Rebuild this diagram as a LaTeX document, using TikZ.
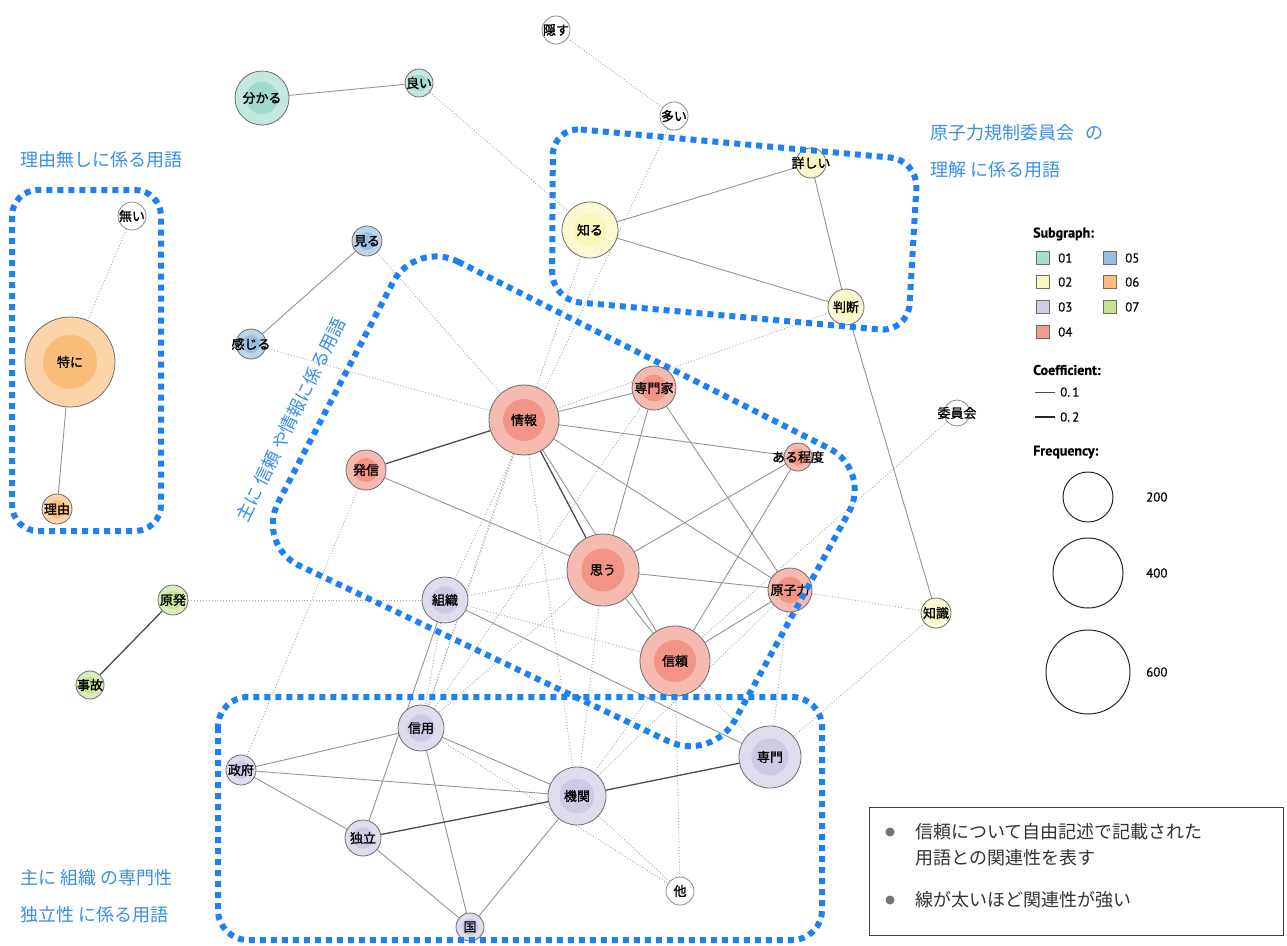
\documentclass[tikz,border=0pt]{standalone}
\usepackage{fontspec}
\newfontfamily\jp{Noto Sans CJK JP}
\newfontfamily\jpb[FakeBold=1.3]{Noto Sans CJK JP}
\newfontfamily\lgf[FakeBold=0.6]{PT Sans}
\usetikzlibrary{backgrounds}
\definecolor{c01}{HTML}{93D3C5}
\definecolor{c02}{HTML}{F8F5B0}
\definecolor{c03}{HTML}{C4C1DF}
\definecolor{c04}{HTML}{F08272}
\definecolor{c05}{HTML}{88B3D5}
\definecolor{c06}{HTML}{F9B162}
\definecolor{c07}{HTML}{BCDC7C}
\definecolor{nedge}{HTML}{6E6E6E}
\definecolor{bluebx}{HTML}{1E80F5}
\definecolor{bluetx}{HTML}{3A8EE8}
\tikzset{
  vtx/.style 2 args={circle, draw=nedge, line width=0.8pt, fill=#1!55, minimum size=#2, inner sep=0pt,
    path picture={\fill[#1!85] (path picture bounding box.center) circle[radius=0.3*#2];}},
  wvtx/.style={circle, draw=nedge!80, line width=0.8pt, fill=white, minimum size=#1, inner sep=0pt},
  lbl/.style={font=\jpb\fontsize{13}{13}\selectfont, text=black, inner sep=0pt},
  sedge/.style={draw=black!42, line width=0.9pt},
  dedge/.style={draw=black!70, line width=1.3pt},
  dotedge/.style={draw=black!35, line width=0.9pt, dotted},
  bluebox/.style={draw=bluebx, line width=6pt, dash pattern=on 6pt off 5pt},
  btxt/.style={font=\jp\fontsize{18}{18}\selectfont, text=bluetx, inner sep=0pt, anchor=west},
  lgt/.style={font=\lgf\fontsize{13}{13}\selectfont, inner sep=0pt, anchor=west},
  lgsq/.style={draw=nedge, line width=0.8pt, minimum size=13pt, inner sep=0pt},
  ntxt/.style={font=\jp\fontsize{18}{18}\selectfont, text=black!80, inner sep=0pt, anchor=west},
}
\begin{document}
\begin{tikzpicture}[x=1pt,y=-1pt]
\useasboundingbox (0,0) rectangle (1287,945);

% nodes
\node[wvtx=28pt, label={[lbl]center:隠す}] (kakusu) at (556,30) {};
\node[vtx={c01}{28pt}, label={[lbl]center:良い}] (yoi) at (419,83) {};
\node[vtx={c01}{54pt}, label={[lbl]center:分かる}] (wakaru) at (262,98) {};
\node[wvtx=28pt, label={[lbl]center:多い}] (ooi) at (674,116) {};
\node[vtx={c02}{30pt}, label={[lbl]center:詳しい}] (kuwashii) at (811,163) {};
\node[vtx={c02}{56pt}, label={[lbl]center:知る}] (shiru) at (590,230) {};
\node[wvtx=28pt, label={[lbl]center:無い}] (nai) at (132,216) {};
\node[vtx={c05}{30pt}, label={[lbl]center:見る}] (miru) at (367,241) {};
\node[vtx={c02}{36pt}, label={[lbl]center:判断}] (handan) at (846,307) {};
\node[vtx={c05}{30pt}, label={[lbl]center:感じる}] (kanjiru) at (251,344) {};
\node[vtx={c06}{90pt}, label={[lbl]center:特に}] (tokuni) at (70,362) {};
\node[vtx={c04}{44pt}, label={[lbl]center:専門家}] (senmonka) at (654,388) {};
\node[vtx={c04}{70pt}, label={[lbl]center:情報}] (joho) at (524,420) {};
\node[vtx={c04}{28pt}, label={[lbl]center:ある程度}] (aruteido) at (798,457) {};
\node[wvtx=26pt, label={[lbl]center:委員会}] (iinkai) at (957,413) {};
\node[vtx={c04}{40pt}, label={[lbl]center:発信}] (hasshin) at (366,470) {};
\node[vtx={c06}{30pt}, label={[lbl]center:理由}] (riyuu) at (57,509) {};
\node[vtx={c04}{72pt}, label={[lbl]center:思う}] (omou) at (603,570) {};
\node[vtx={c04}{44pt}, label={[lbl]center:原子力}] (genshiryoku) at (790,590) {};
\node[vtx={c07}{30pt}, label={[lbl]center:原発}] (genpatsu) at (173,600) {};
\node[vtx={c03}{46pt}, label={[lbl]center:組織}] (soshiki) at (445,600) {};
\node[vtx={c02}{30pt}, label={[lbl]center:知識}] (chishiki) at (936,613) {};
\node[vtx={c04}{70pt}, label={[lbl]center:信頼}] (shinrai) at (675,661) {};
\node[vtx={c07}{28pt}, label={[lbl]center:事故}] (jiko) at (90,685) {};
\node[vtx={c03}{46pt}, label={[lbl]center:信用}] (shinyo) at (421,728) {};
\node[vtx={c03}{62pt}, label={[lbl]center:専門}] (senmon) at (770,757) {};
\node[vtx={c03}{30pt}, label={[lbl]center:政府}] (seifu) at (241,770) {};
\node[vtx={c03}{58pt}, label={[lbl]center:機関}] (kikan) at (577,796) {};
\node[vtx={c03}{36pt}, label={[lbl]center:独立}] (dokuritsu) at (363,838) {};
\node[wvtx=28pt, label={[lbl]center:他}] (ta) at (680,891) {};
\node[vtx={c03}{28pt}, label={[lbl]center:国}] (kuni) at (470,927) {};

\begin{scope}[on background layer]
\fill[white] (0,0) rectangle (1287,945);
% dotted edges
\foreach \a/\b in {kakusu/ooi, yoi/shiru, ooi/soshiki, shiru/shinyo, miru/joho, kanjiru/joho,
  nai/tokuni, handan/joho, iinkai/shinrai, genshiryoku/chishiki, chishiki/senmon,
  genpatsu/soshiki, hasshin/seifu, soshiki/omou, soshiki/shinrai, soshiki/shinyo,
  omou/kikan, omou/shinyo, joho/shinyo, senmonka/shinyo, shinrai/kikan, genshiryoku/kikan,
  genshiryoku/senmon, shinrai/senmon, shinrai/ta, kikan/ta, shinyo/ta, joho/kikan}
  \draw[dotedge] (\a) -- (\b);
% solid edges
\foreach \a/\b in {wakaru/yoi, shiru/kuwashii, shiru/handan, kuwashii/handan, handan/chishiki,
  miru/kanjiru, tokuni/riyuu, hasshin/omou, joho/senmonka, joho/aruteido, joho/genshiryoku,
  joho/shinrai, senmonka/omou, senmonka/genshiryoku, aruteido/omou, aruteido/shinrai,
  omou/genshiryoku, omou/shinrai, genshiryoku/shinrai, soshiki/senmon, soshiki/dokuritsu,
  shinyo/seifu, seifu/kikan, seifu/dokuritsu, shinyo/kikan, shinyo/kuni, dokuritsu/kuni, kikan/kuni}
  \draw[sedge] (\a) -- (\b);
\foreach \a/\b in {genpatsu/jiko, hasshin/joho, kikan/senmon, dokuritsu/kikan, joho/omou}
  \draw[dedge] (\a) -- (\b);
\end{scope}

% blue grouping outlines
\draw[bluebox, rounded corners=26pt] (12,190) rectangle (161,531);
\draw[bluebox, rounded corners=28pt] (553,127) -- (918,160) -- (908,332) -- (552,300) -- cycle;
\draw[bluebox, rounded corners=48pt] (415,240) -- (872,470) -- (712,762) -- (256,545) -- cycle;
\draw[bluebox, rounded corners=30pt] (218,697) rectangle (822,940);

% blue labels
\node[btxt] (t1) at (20,160) {理由無しに係る用語};
\node[btxt] (t2) at (930,133) {原子力規制委員会\hspace{0.6em}の};
\node[btxt] (t3) at (930,170) {理解 に係る用語};
\node[btxt] (t4) at (20,878) {主に 組織 の専門性};
\node[btxt] (t5) at (20,915) {独立性 に係る用語};
\node[font=\jp\fontsize{18}{18}\selectfont, text=bluetx, inner sep=0pt, rotate=64] (t6) at (291,420) {主に 信頼 や情報に係る用語};

% legend
\node[lgt, font=\lgf\fontsize{14}{14}\selectfont\bfseries] (lg1) at (1033,234) {Subgraph:};
\node[lgsq, fill=c01!80] (s01) at (1043,258) {}; \node[lgt] at (1058,258) {01};
\node[lgsq, fill=c02!80] (s02) at (1043,282) {}; \node[lgt] at (1058,282) {02};
\node[lgsq, fill=c03!80] (s03) at (1043,307) {}; \node[lgt] at (1058,307) {03};
\node[lgsq, fill=c04!80] (s04) at (1043,332) {}; \node[lgt] at (1058,332) {04};
\node[lgsq, fill=c05!85] (s05) at (1110,258) {}; \node[lgt] at (1125,258) {05};
\node[lgsq, fill=c06!85] (s06) at (1110,282) {}; \node[lgt] at (1125,282) {06};
\node[lgsq, fill=c07!85] (s07) at (1110,307) {}; \node[lgt] at (1125,307) {07};
\node[lgt, font=\lgf\fontsize{14}{14}\selectfont\bfseries] (lg2) at (1033,370) {Coefficient:};
\coordinate (cl1a) at (1035,392); \coordinate (cl1b) at (1055,392);
\coordinate (cl2a) at (1035,417); \coordinate (cl2b) at (1055,417);
\draw[black!70, line width=0.7pt] (cl1a) -- (cl1b);
\draw[black!85, line width=1.1pt] (cl2a) -- (cl2b);
\node[lgt] at (1060,392) {0.\,1};
\node[lgt] at (1060,417) {0.\,2};
\node[lgt, font=\lgf\fontsize{14}{14}\selectfont\bfseries] (lg3) at (1033,452) {Frequency:};
\node[circle, draw=black!85, line width=1pt, minimum size=50pt, inner sep=0pt] (f200) at (1088,497) {};
\node[circle, draw=black!85, line width=1pt, minimum size=70pt, inner sep=0pt] (f400) at (1088,573) {};
\node[circle, draw=black!85, line width=1pt, minimum size=84pt, inner sep=0pt] (f600) at (1088,672) {};
\node[lgt] at (1146,497) {200};
\node[lgt] at (1146,573) {400};
\node[lgt] at (1146,672) {600};

% note box
\node[draw=black!75, line width=0.8pt, minimum width=414pt, minimum height=128pt, inner sep=0pt, anchor=north west] (note) at (869,807) {};
\fill[black!55] (890,832) circle (4.5pt);
\fill[black!55] (890,900) circle (4.5pt);
\node[ntxt] at (915,832) {信頼について自由記述で記載された};
\node[ntxt] at (915,858) {用語との関連性を表す};
\node[ntxt] at (915,900) {線が太いほど関連性が強い};
\end{tikzpicture}
\end{document}
